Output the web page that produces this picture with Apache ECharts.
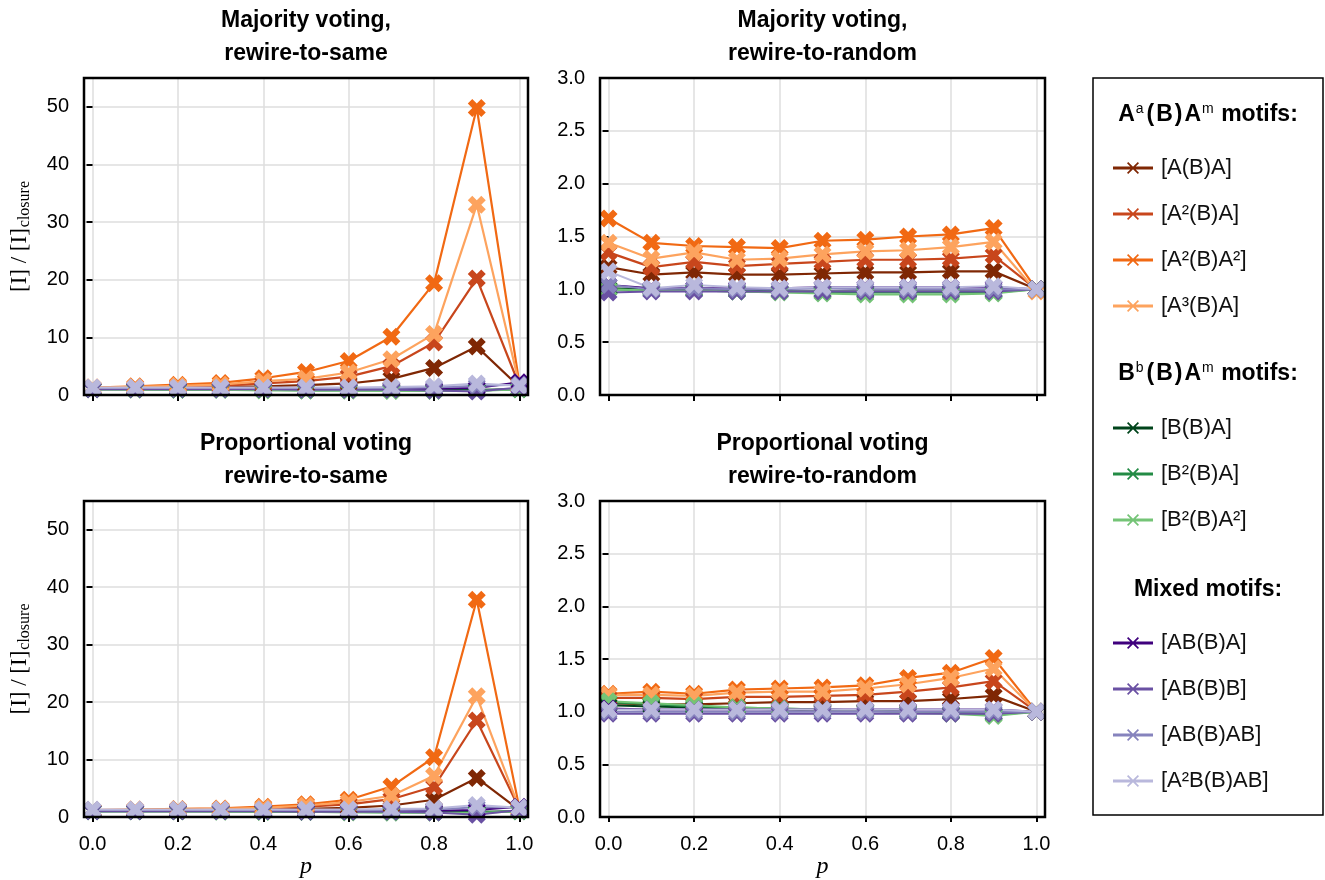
<!DOCTYPE html>
<html>
<head>
<meta charset="utf-8">
<script src="https://cdn.jsdelivr.net/npm/echarts@6/dist/echarts.min.js"></script>
<style>
html,body{margin:0;padding:0;background:#fff;}
#chart{width:1325px;height:880px;}
</style>
</head>
<body>
<div id="chart"></div>
<script>
// ---------- DATA ----------
const P = [0.0, 0.1, 0.2, 0.3, 0.4, 0.5, 0.6, 0.7, 0.8, 0.9, 1.0];
const seriesNames = ['[A(B)A]', '[A²(B)A]', '[A²(B)A²]', '[A³(B)A]',
  '[B(B)A]', '[B²(B)A]', '[B²(B)A²]',
  '[AB(B)A]', '[AB(B)B]', '[AB(B)AB]', '[A²B(B)AB]'];
const xTicks = [0, 0.2, 0.4, 0.6, 0.8, 1.0];
const yTicksSame = [0, 10, 20, 30, 40, 50];
const yTicksRandom = [0, 0.5, 1.0, 1.5, 2.0, 2.5, 3.0];
const panelTitles = ['Majority voting,\nrewire-to-same', 'Majority voting,\nrewire-to-random',
  'Proportional voting\nrewire-to-same', 'Proportional voting\nrewire-to-random'];

// Majority voting, rewire-to-same
const majoritySame = [
  [1.1, 1.2, 1.3, 1.4, 1.5, 1.7, 2.0, 2.8, 4.7, 8.4, 1.4],
  [1.2, 1.3, 1.5, 1.6, 2.0, 2.4, 3.2, 5.0, 9.1, 20.2, 1.6],
  [1.3, 1.5, 1.8, 2.1, 2.9, 4.0, 5.9, 10.1, 19.4, 49.8, 1.9],
  [1.3, 1.4, 1.6, 1.8, 2.4, 2.8, 3.9, 6.2, 10.6, 33.0, 1.7],
  [1.0, 1.0, 1.0, 1.0, 0.9, 0.9, 0.9, 0.9, 0.9, 0.9, 1.0],
  [1.0, 1.0, 0.9, 0.9, 0.9, 0.8, 0.8, 0.8, 0.8, 0.8, 1.0],
  [1.0, 0.9, 0.9, 0.9, 0.8, 0.8, 0.8, 0.7, 0.7, 0.7, 1.0],
  [1.1, 1.1, 1.1, 1.1, 1.1, 1.1, 1.1, 1.1, 1.1, 1.2, 2.2],
  [1.0, 1.0, 1.0, 1.0, 1.0, 0.9, 0.9, 0.9, 0.8, 0.6, 1.3],
  [1.2, 1.2, 1.2, 1.2, 1.2, 1.2, 1.2, 1.2, 1.3, 1.6, 1.8],
  [1.3, 1.3, 1.3, 1.3, 1.3, 1.3, 1.3, 1.4, 1.5, 2.0, 1.6]
];
// Majority voting, rewire-to-random
const majorityRandom = [
  [1.21, 1.14, 1.16, 1.14, 1.14, 1.15, 1.16, 1.16, 1.17, 1.17, 1.00],
  [1.35, 1.21, 1.26, 1.22, 1.24, 1.26, 1.28, 1.28, 1.29, 1.32, 1.00],
  [1.67, 1.44, 1.41, 1.40, 1.39, 1.46, 1.47, 1.50, 1.52, 1.58, 1.00],
  [1.44, 1.29, 1.35, 1.28, 1.29, 1.33, 1.36, 1.37, 1.40, 1.45, 0.98],
  [1.01, 1.00, 0.99, 0.99, 0.98, 0.98, 0.98, 0.98, 0.98, 0.98, 1.00],
  [1.00, 0.99, 0.99, 0.98, 0.98, 0.97, 0.97, 0.97, 0.97, 0.97, 1.00],
  [1.00, 0.99, 0.99, 0.98, 0.97, 0.96, 0.95, 0.95, 0.95, 0.96, 1.00],
  [1.04, 1.01, 1.01, 1.01, 1.01, 1.02, 1.02, 1.02, 1.02, 1.02, 1.00],
  [0.97, 0.98, 0.98, 0.98, 0.98, 0.98, 0.98, 0.98, 0.98, 0.98, 1.00],
  [1.04, 1.00, 1.01, 1.00, 1.00, 1.01, 1.00, 1.00, 1.00, 1.00, 1.00],
  [1.17, 1.01, 1.04, 1.02, 1.01, 1.02, 1.02, 1.02, 1.02, 1.03, 1.00]
];
// Proportional voting, rewire-to-same
const proportionalSame = [
  [1.1, 1.1, 1.2, 1.2, 1.3, 1.4, 1.6, 2.0, 3.0, 6.8, 1.2],
  [1.2, 1.2, 1.3, 1.3, 1.5, 1.8, 2.2, 3.1, 5.3, 16.8, 1.4],
  [1.2, 1.3, 1.4, 1.5, 1.8, 2.2, 3.0, 5.3, 10.4, 37.8, 1.5],
  [1.2, 1.3, 1.3, 1.4, 1.6, 2.0, 2.6, 3.7, 7.2, 21.0, 1.4],
  [1.0, 1.0, 1.0, 1.0, 1.0, 0.9, 0.9, 0.9, 0.9, 0.9, 1.0],
  [1.0, 1.0, 1.0, 1.0, 0.9, 0.9, 0.9, 0.8, 0.8, 0.8, 1.0],
  [1.0, 1.0, 1.0, 0.9, 0.9, 0.9, 0.8, 0.8, 0.8, 0.7, 1.0],
  [1.1, 1.1, 1.1, 1.1, 1.1, 1.1, 1.1, 1.1, 1.1, 1.2, 1.8],
  [1.0, 1.0, 1.0, 1.0, 1.0, 0.9, 0.9, 0.9, 0.8, 0.4, 1.2],
  [1.2, 1.2, 1.2, 1.2, 1.2, 1.2, 1.2, 1.2, 1.3, 1.7, 1.7],
  [1.3, 1.3, 1.3, 1.3, 1.3, 1.3, 1.3, 1.4, 1.5, 2.1, 1.6]
];
// Proportional voting, rewire-to-random
const proportionalRandom = [
  [1.08, 1.07, 1.07, 1.08, 1.09, 1.09, 1.10, 1.10, 1.12, 1.15, 1.00],
  [1.13, 1.13, 1.12, 1.14, 1.14, 1.15, 1.16, 1.19, 1.23, 1.29, 1.00],
  [1.17, 1.19, 1.17, 1.21, 1.22, 1.23, 1.25, 1.32, 1.37, 1.51, 1.00],
  [1.16, 1.16, 1.15, 1.18, 1.19, 1.19, 1.22, 1.26, 1.32, 1.41, 1.00],
  [1.06, 1.05, 1.04, 1.03, 1.02, 1.01, 1.01, 1.00, 0.99, 0.98, 1.00],
  [1.09, 1.07, 1.05, 1.04, 1.03, 1.02, 1.01, 1.00, 0.99, 0.97, 1.00],
  [1.10, 1.08, 1.06, 1.04, 1.03, 1.02, 1.01, 0.99, 0.98, 0.96, 1.00],
  [1.03, 1.02, 1.02, 1.02, 1.02, 1.02, 1.02, 1.02, 1.02, 1.02, 1.00],
  [0.98, 0.98, 0.98, 0.98, 0.98, 0.98, 0.98, 0.98, 0.98, 0.98, 1.00],
  [1.00, 1.00, 1.00, 1.00, 1.00, 1.00, 1.00, 1.00, 1.00, 1.00, 1.00],
  [1.02, 1.02, 1.02, 1.02, 1.02, 1.02, 1.02, 1.02, 1.02, 1.02, 1.00]
];

// ---------- STYLE ----------
const colors = ['#7f2704', '#c8461c', '#f16913', '#fda35e',
  '#00441b', '#238b45', '#74c476',
  '#3f007d', '#6a51a3', '#8683bd', '#b9b8dc'];
const panelData = [majoritySame, majorityRandom, proportionalSame, proportionalRandom];
const frames = [
  {left: 84, top: 78, width: 444, height: 317},
  {left: 600, top: 78, width: 445, height: 317},
  {left: 84, top: 501, width: 444, height: 316},
  {left: 600, top: 501, width: 445, height: 316}
];
const XMIN = -0.02, XMAX = 1.02;
const SANS = 'Liberation Sans, Arial, Helvetica, sans-serif';
const SERIF = 'Liberation Serif, DejaVu Serif, serif';
const markerPath = 'path://M2.5,0 L5,2.5 L7.5,0 L10,2.5 L7.5,5 L10,7.5 L7.5,10 L5,7.5 L2.5,10 L0,7.5 L2.5,5 L0,2.5 Z';
const legendIcon = 'path://M0,4.6 L40,4.6 L40,7.4 L0,7.4 Z M15.2,0 L20,4.8 L24.8,0 L26,1.2 L21.2,6 L26,10.8 L24.8,12 L20,7.2 L15.2,12 L14,10.8 L18.8,6 L14,1.2 Z';

const grids = [], xAxes = [], yAxes = [], series = [], titles = [], graphics = [];

frames.forEach((f, i) => {
  const isLeft = (i % 2 === 0);
  grids.push({left: f.left, top: f.top, width: f.width, height: f.height, containLabel: false});
  xAxes.push({type: 'value', gridIndex: i, min: XMIN, max: XMAX, show: false});
  const yMax = isLeft ? 55 : 3;
  const yTicks = isLeft ? yTicksSame : yTicksRandom;
  const yAx = {
    type: 'value', gridIndex: i, min: 0, max: yMax, interval: isLeft ? 10 : 0.5,
    axisLine: {show: false},
    axisTick: {show: true, length: 6, inside: false, customValues: yTicks,
      lineStyle: {color: '#000', width: 2}},
    axisLabel: {show: true, customValues: yTicks, margin: 15, color: '#000',
      fontFamily: SANS, fontSize: 20,
      formatter: v => isLeft ? String(Math.round(v)) : v.toFixed(1)},
    splitLine: {show: true, lineStyle: {color: '#dedede', width: 1.5}}
  };
  if (isLeft) {
    yAx.name = '{a|[I] / [I]}{b|closure}';
    yAx.nameLocation = 'middle';
    yAx.nameRotate = 90;
    yAx.nameGap = 51;
    yAx.nameTextStyle = {
      color: '#000', fontFamily: SERIF, fontSize: 23,
      rich: {
        a: {fontFamily: SERIF, fontSize: 23, color: '#000', lineHeight: 26},
        b: {fontFamily: SERIF, fontSize: 16, color: '#000', verticalAlign: 'bottom', lineHeight: 26, padding: [9, 0, 0, 1]}
      }
    };
  }
  yAxes.push(yAx);

  titles.push({
    text: panelTitles[i],
    left: f.left + f.width / 2, top: f.top - 74,
    textAlign: 'center', padding: 0,
    textStyle: {fontFamily: SANS, fontWeight: 'bold', fontSize: 23, lineHeight: 33, color: '#000'}
  });

  graphics.push({type: 'rect', z: 100, silent: true,
    shape: {x: f.left, y: f.top, width: f.width, height: f.height},
    style: {fill: 'none', stroke: '#000', lineWidth: 2.5}});

  panelData[i].forEach((vals, k) => {
    series.push({
      name: seriesNames[k], type: 'line', xAxisIndex: i, yAxisIndex: i,
      data: P.map((p, j) => [p, vals[j]]),
      symbol: markerPath, symbolSize: 18, showSymbol: true,
      lineStyle: {width: k < 4 ? 2.2 : 2, color: colors[k]},
      itemStyle: {color: colors[k]},
      emphasis: {disabled: true},
      animation: false, clip: false, z: 2
    });
  });
});

// tick grids (0..1 range) for x ticks, labels and vertical grid lines
frames.forEach((f, i) => {
  const isBottom = (i >= 2);
  const pxPerUnit = f.width / (XMAX - XMIN);
  const gi = grids.length;
  grids.push({left: f.left + (0 - XMIN) * pxPerUnit, top: f.top, width: pxPerUnit, height: f.height});
  const xa = {
    type: 'value', gridIndex: gi, min: 0, max: 1, interval: 0.2,
    axisLine: {show: false},
    axisTick: {show: true, length: 6, customValues: xTicks, lineStyle: {color: '#000', width: 2}},
    axisLabel: {show: isBottom, margin: 18, color: '#000', fontFamily: SANS, fontSize: 20,
      formatter: v => v.toFixed(1)},
    splitLine: {show: true, lineStyle: {color: '#dedede', width: 1.5}}
  };
  if (isBottom) {
    xa.name = 'p';
    xa.nameLocation = 'middle';
    xa.nameGap = 38;
    xa.nameTextStyle = {fontFamily: SERIF, fontStyle: 'italic', fontSize: 24, color: '#000'};
  }
  xAxes.push(xa);
  yAxes.push({type: 'value', gridIndex: gi, min: 0, max: 1, show: false});
});

// legend box & headings
graphics.push({type: 'rect', z: 100, silent: true,
  shape: {x: 1093, y: 78, width: 230, height: 737},
  style: {fill: '#fff', stroke: '#000', lineWidth: 1.5}});
const headRich = {
  b: {fontFamily: SANS, fontWeight: 'bold', fontSize: 23, color: '#000', lineHeight: 26},
  p: {fontFamily: SANS, fontWeight: 'bold', fontSize: 23, color: '#000', lineHeight: 26, padding: [0, 2, 0, 2]},
  s: {fontFamily: SANS, fontWeight: 'normal', fontSize: 14, color: '#000', verticalAlign: 'top', lineHeight: 26, padding: [0, 1, 0, 1]}
};
const headings = [
  {text: '{b|A}{s|a}{p|(}{b|B}{p|)}{b|A}{s|m}{b| motifs:}', y: 115},
  {text: '{b|B}{s|b}{p|(}{b|B}{p|)}{b|A}{s|m}{b| motifs:}', y: 374},
  {text: '{b|Mixed motifs:}', y: 590}
];
headings.forEach(h => {
  graphics.push({type: 'text', z: 101, silent: true, x: 1208, y: h.y,
    style: {text: h.text, rich: headRich, align: 'center', verticalAlign: 'middle'}});
});

const legendGroups = [
  {names: seriesNames.slice(0, 4), top: 157},
  {names: seriesNames.slice(4, 7), top: 417},
  {names: seriesNames.slice(7, 11), top: 632}
];
const legends = legendGroups.map(g => ({
  data: g.names.map(n => ({name: n, icon: legendIcon})),
  orient: 'vertical', left: 1113, top: g.top, padding: 0,
  itemWidth: 40, itemHeight: 12, itemGap: 24, selectedMode: false, z: 110,
  textStyle: {fontFamily: SANS, fontSize: 22, color: '#111', padding: [0, 0, 0, 3]}
}));

const chart = echarts.init(document.getElementById('chart'), null, {renderer: 'canvas'});
chart.setOption({
  animation: false,
  backgroundColor: '#fff',
  title: titles,
  grid: grids,
  xAxis: xAxes,
  yAxis: yAxes,
  legend: legends,
  series: series,
  graphic: graphics
});
</script>
</body>
</html>
